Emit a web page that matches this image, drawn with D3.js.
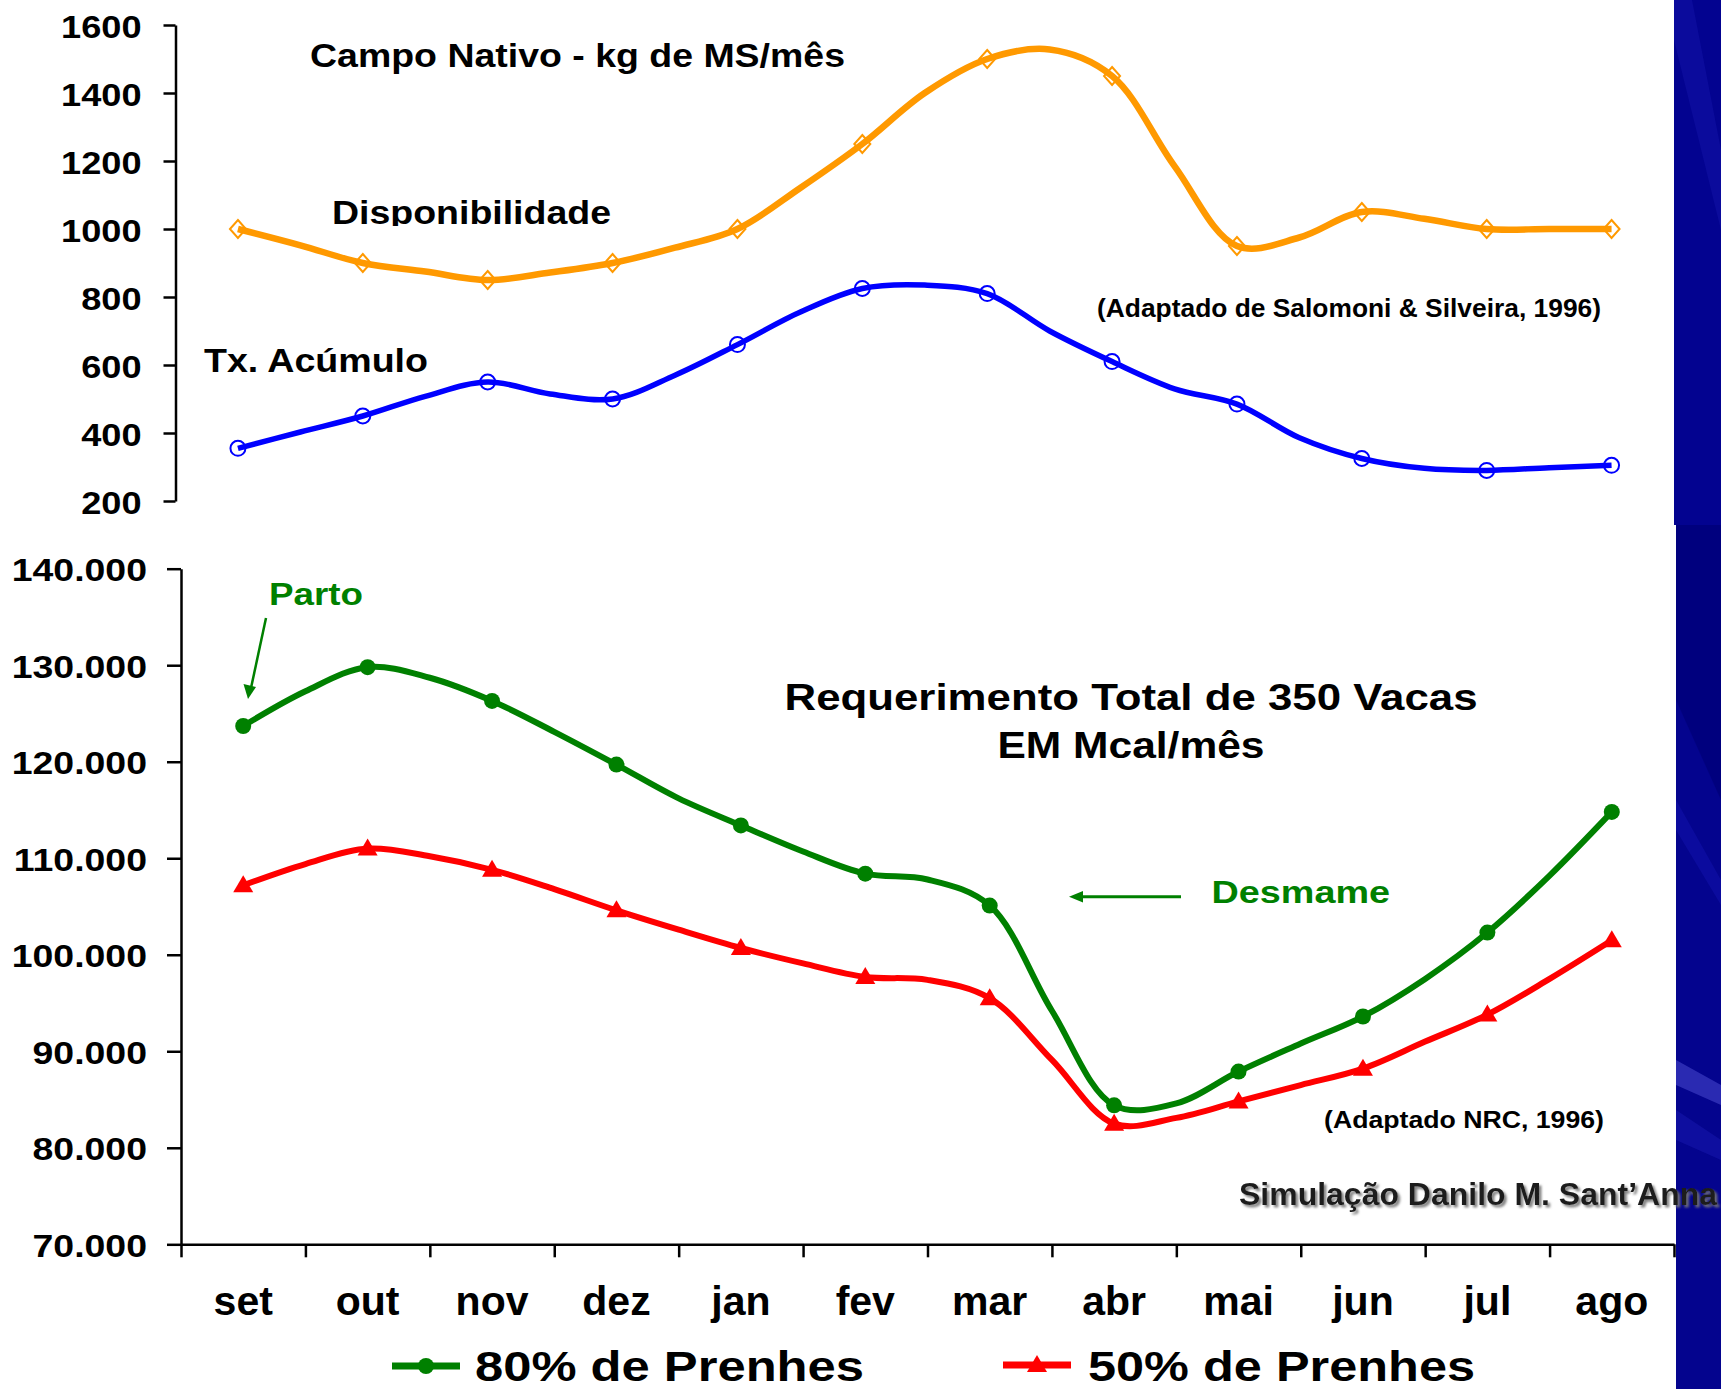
<!DOCTYPE html>
<html><head><meta charset="utf-8">
<script src="https://cdn.jsdelivr.net/npm/d3@7"></script>
<style>
html,body{margin:0;padding:0;background:#fff;}
svg{display:block;}
text{font-family:Arial,"Liberation Sans",Helvetica,sans-serif;font-weight:bold;}
</style></head><body>
<svg id="chart" width="1721" height="1389"></svg>
<script>
// ---------------- DATA ----------------
const months = ["set","out","nov","dez","jan","fev","mar","abr","mai","jun","jul","ago"];

// Campo Nativo (kg de MS/mês) – monthly values (markers) and mid-month readings of the smoothed line
const dispMonthly = [1000, 900, 850, 900, 1000, 1250, 1500, 1450, 950, 1050, 1000, 1000];
const dispMid     = [952, 875, 872, 945, 1120, 1400, 1528, 1185, 975, 1030, 1000];
const acumMonthly = [355, 450, 550, 500, 660, 825, 810, 610, 485, 325, 290, 305];
const acumMid     = [403, 508, 515, 570, 755, 835, 700, 530, 386, 296, 298];
const topTicks = [200, 400, 600, 800, 1000, 1200, 1400, 1600];

// Requerimento total de 350 vacas (EM Mcal/mês)
const req80Monthly = [123700, 129800, 126300, 119700, 113400, 108400, 105100, 84400, 87900, 93600, 102300, 114800];
const req80Mid     = [127300, 128700, 123100, 116200, 110700, 107800, 94200, 84600, 90800, 97500, 108200];
const req50Monthly = [107200, 111000, 108800, 104600, 100700, 97700, 95500, 82500, 84800, 88200, 93800, 101500];
const req50Mid     = [109400, 110200, 106800, 102600, 99100, 97400, 89100, 83100, 86500, 91000, 97500];
const bottomTicks = [70000, 80000, 90000, 100000, 110000, 120000, 130000, 140000];

// ---------------- SETUP ----------------
const FONT = 'Arial, "Liberation Sans", Helvetica, sans-serif';
const svg = d3.select("#chart");
const defs = svg.append("defs");
const f = defs.append("filter").attr("id","shadow").attr("x","-5%").attr("y","-30%").attr("width","112%").attr("height","170%");
f.append("feDropShadow").attr("dx",2.5).attr("dy",2.5).attr("stdDeviation",1.2).attr("flood-color","#777").attr("flood-opacity",0.9);
defs.append("clipPath").attr("id","dispClip").append("rect").attr("x",300).attr("y",150).attr("width",400).attr("height",76);

svg.append("rect").attr("width",1721).attr("height",1389).attr("fill","#fff");

// decorative blue strip on the right
const stripTop = svg.append("g");
stripTop.append("rect").attr("x",1674).attr("y",0).attr("width",47).attr("height",525).attr("fill","#030390");
stripTop.append("polygon").attr("points","1674,0 1692,0 1721,150 1721,230 1674,40").attr("fill","#1212a6").attr("opacity",0.55);
const stripBot = svg.append("g");
stripBot.append("rect").attr("x",1676).attr("y",525).attr("width",45).attr("height",864).attr("fill","#04048e");
stripBot.append("polygon").attr("points","1676,525 1721,525 1721,800 1676,700").attr("fill","#00007a").attr("opacity",0.8);
stripBot.append("polygon").attr("points","1676,800 1721,880 1721,905 1676,830").attr("fill","#1010a8").attr("opacity",0.6);
stripBot.append("polygon").attr("points","1676,1060 1721,1085 1721,1105 1676,1085").attr("fill","#4a4ad0").attr("opacity",0.55);
stripBot.append("polygon").attr("points","1676,1110 1721,1140 1721,1160 1676,1140").attr("fill","#1515aa").attr("opacity",0.6);

// helper: stretch text horizontally
function stretch(sel, sx){
  sel.each(function(){
    const w = this.getComputedTextLength();
    d3.select(this).attr("textLength", w*sx).attr("lengthAdjust","spacingAndGlyphs");
  });
}
function label(txt, x, y, size, len, opts={}){
  const t = svg.append("text").attr("x",x).attr("y",y).attr("font-size",size)
    .attr("font-family",FONT).attr("font-weight","bold")
    .attr("fill",opts.fill||"#000").attr("text-anchor",opts.anchor||"start").text(txt);
  if(len) t.attr("textLength",len).attr("lengthAdjust","spacingAndGlyphs");
  if(opts.filter) t.attr("filter",opts.filter);
  if(opts.clip) t.attr("clip-path",opts.clip);
  return t;
}
function combine(monthly, mid){
  const pts=[];
  monthly.forEach((v,i)=>{ pts.push([i,v]); if(i<mid.length) pts.push([i+0.5, mid[i]]); });
  return pts;
}
const ptFmt = d3.formatLocale({decimal:",", thousands:".", grouping:[3], currency:["R$",""]}).format(",.0f");

// ---------------- TOP CHART ----------------
const xTop = d3.scaleLinear().domain([-0.5, 11.5]).range([175.5, 1674]);
const yTop = d3.scaleLinear().domain([200, 1600]).range([501, 25]);

const axTop = svg.append("g").attr("transform","translate(175.5,0)")
  .call(d3.axisLeft(yTop).tickValues(topTicks).tickSize(12).tickSizeOuter(0).tickPadding(22).tickFormat(d3.format("d")));
axTop.attr("font-family",FONT);
axTop.select(".domain").attr("stroke","#000").attr("stroke-width",2.5);
axTop.selectAll(".tick line").attr("stroke","#000").attr("stroke-width",2.5);
axTop.selectAll(".tick text").attr("font-size",32).attr("fill","#000").attr("font-weight","bold").attr("dy","0.38em");
stretch(axTop.selectAll(".tick text"), 1.13);

const lineTop = d3.line().x(d=>xTop(d[0])).y(d=>yTop(d[1])).curve(d3.curveCatmullRom.alpha(0.5));
svg.append("path").datum(combine(dispMonthly, dispMid)).attr("d",lineTop)
  .attr("fill","none").attr("stroke","#FF9900").attr("stroke-width",6.5).attr("stroke-linejoin","round");
svg.append("path").datum(combine(acumMonthly, acumMid)).attr("d",lineTop)
  .attr("fill","none").attr("stroke","#0000FF").attr("stroke-width",5.5).attr("stroke-linejoin","round");

svg.append("g").selectAll("path").data(dispMonthly).join("path")
  .attr("transform",(d,i)=>`translate(${xTop(i)},${yTop(d)})`)
  .attr("d","M0,-9L8,0L0,9L-8,0Z").attr("fill","none").attr("stroke","#FF9900").attr("stroke-width",2);
svg.append("g").selectAll("circle").data(acumMonthly).join("circle")
  .attr("cx",(d,i)=>xTop(i)).attr("cy",d=>yTop(d)).attr("r",7.5)
  .attr("fill","none").attr("stroke","#0000FF").attr("stroke-width",2);

label("Campo Nativo - kg de MS/mês", 310, 67, 33, 535);
label("Disponibilidade", 332, 224, 33, 279, {clip:"url(#dispClip)"});
label("Tx. Acúmulo", 204, 372, 33, 224);
label("(Adaptado de Salomoni & Silveira, 1996)", 1097, 317, 25, 504);

// ---------------- BOTTOM CHART ----------------
const xBand = d3.scaleBand().domain(months).range([181, 1674]);
const xBot = d3.scaleLinear().domain([-0.5, 11.5]).range([181, 1674]);
const yBot = d3.scaleLinear().domain([70000, 140000]).range([1244.3, 568.7]);

const axBotY = svg.append("g").attr("transform","translate(181,0)")
  .call(d3.axisLeft(yBot).tickValues(bottomTicks).tickSize(14).tickSizeOuter(0).tickPadding(20).tickFormat(ptFmt));
axBotY.attr("font-family",FONT);
axBotY.select(".domain").attr("stroke","#000").attr("stroke-width",2.5);
axBotY.selectAll(".tick line").attr("stroke","#000").attr("stroke-width",2.5);
axBotY.selectAll(".tick text").attr("font-size",32).attr("fill","#000").attr("font-weight","bold").attr("dy","0.38em");
stretch(axBotY.selectAll(".tick text"), 1.17);

const bounds = d3.range(13).map(i=>i-0.5);
const axBotX = svg.append("g").attr("transform","translate(0,1244.3)")
  .call(d3.axisBottom(xBot).tickValues(bounds).tickSize(13).tickSizeOuter(0).tickFormat(""));
axBotX.select(".domain").attr("stroke","#000").attr("stroke-width",2.5);
axBotX.selectAll(".tick line").attr("stroke","#000").attr("stroke-width",2.5);

const axMonths = svg.append("g").attr("transform","translate(0,1244.3)")
  .call(d3.axisBottom(xBand).tickSize(0).tickPadding(0));
axMonths.attr("font-family",FONT);
axMonths.select(".domain").remove();
axMonths.selectAll(".tick text").attr("font-size",41).attr("fill","#000").attr("font-weight","bold")
  .attr("dy",0).attr("y",71);

const lineBot = d3.line().x(d=>xBot(d[0])).y(d=>yBot(d[1])).curve(d3.curveCatmullRom.alpha(0.5));
svg.append("path").datum(combine(req80Monthly, req80Mid)).attr("d",lineBot)
  .attr("fill","none").attr("stroke","#008000").attr("stroke-width",6).attr("stroke-linejoin","round");
svg.append("path").datum(combine(req50Monthly, req50Mid)).attr("d",lineBot)
  .attr("fill","none").attr("stroke","#FF0000").attr("stroke-width",6).attr("stroke-linejoin","round");

svg.append("g").selectAll("circle").data(req80Monthly).join("circle")
  .attr("cx",(d,i)=>xBot(i)).attr("cy",d=>yBot(d)).attr("r",8).attr("fill","#008000");
const tri = "M0,-10L10,7L-10,7Z";
svg.append("g").selectAll("path").data(req50Monthly).join("path")
  .attr("transform",(d,i)=>`translate(${xBot(i)},${yBot(d)})`).attr("d",tri).attr("fill","#FF0000");

// annotations
label("Parto", 269, 605, 31, 94, {fill:"#008000"});
svg.append("line").attr("x1",266).attr("y1",618).attr("x2",251).attr("y2",688).attr("stroke","#008000").attr("stroke-width",2.5);
svg.append("path").attr("d","M248,699 L243.5,684 L256,687 Z").attr("fill","#008000");

label("Requerimento Total de 350 Vacas", 1131, 710, 37, 693, {anchor:"middle"});
label("EM Mcal/mês", 1131, 758, 37, 267, {anchor:"middle"});

label("Desmame", 1211.5, 903, 32, 178.5, {fill:"#008000"});
svg.append("line").attr("x1",1181).attr("y1",896.7).attr("x2",1080).attr("y2",896.7).attr("stroke","#008000").attr("stroke-width",3);
svg.append("path").attr("d","M1069,896.7 L1083,891 L1083,902.4 Z").attr("fill","#008000");

label("(Adaptado NRC, 1996)", 1324, 1128, 24, 280);
label("Simulação Danilo M. Sant’Anna", 1239, 1205, 31, 478, {fill:"#1e1e1e", filter:"url(#shadow)"});

// legend
const leg = svg.append("g");
leg.append("line").attr("x1",392).attr("x2",460).attr("y1",1366).attr("y2",1366).attr("stroke","#008000").attr("stroke-width",7);
leg.append("circle").attr("cx",426).attr("cy",1366).attr("r",8).attr("fill","#008000");
label("80% de Prenhes", 475, 1381, 43, 389);
leg.append("line").attr("x1",1003).attr("x2",1071).attr("y1",1365).attr("y2",1365).attr("stroke","#FF0000").attr("stroke-width",7);
leg.append("path").attr("transform","translate(1037,1365)").attr("d",tri).attr("fill","#FF0000");
label("50% de Prenhes", 1088, 1381, 43, 387);
</script>
</body></html>
